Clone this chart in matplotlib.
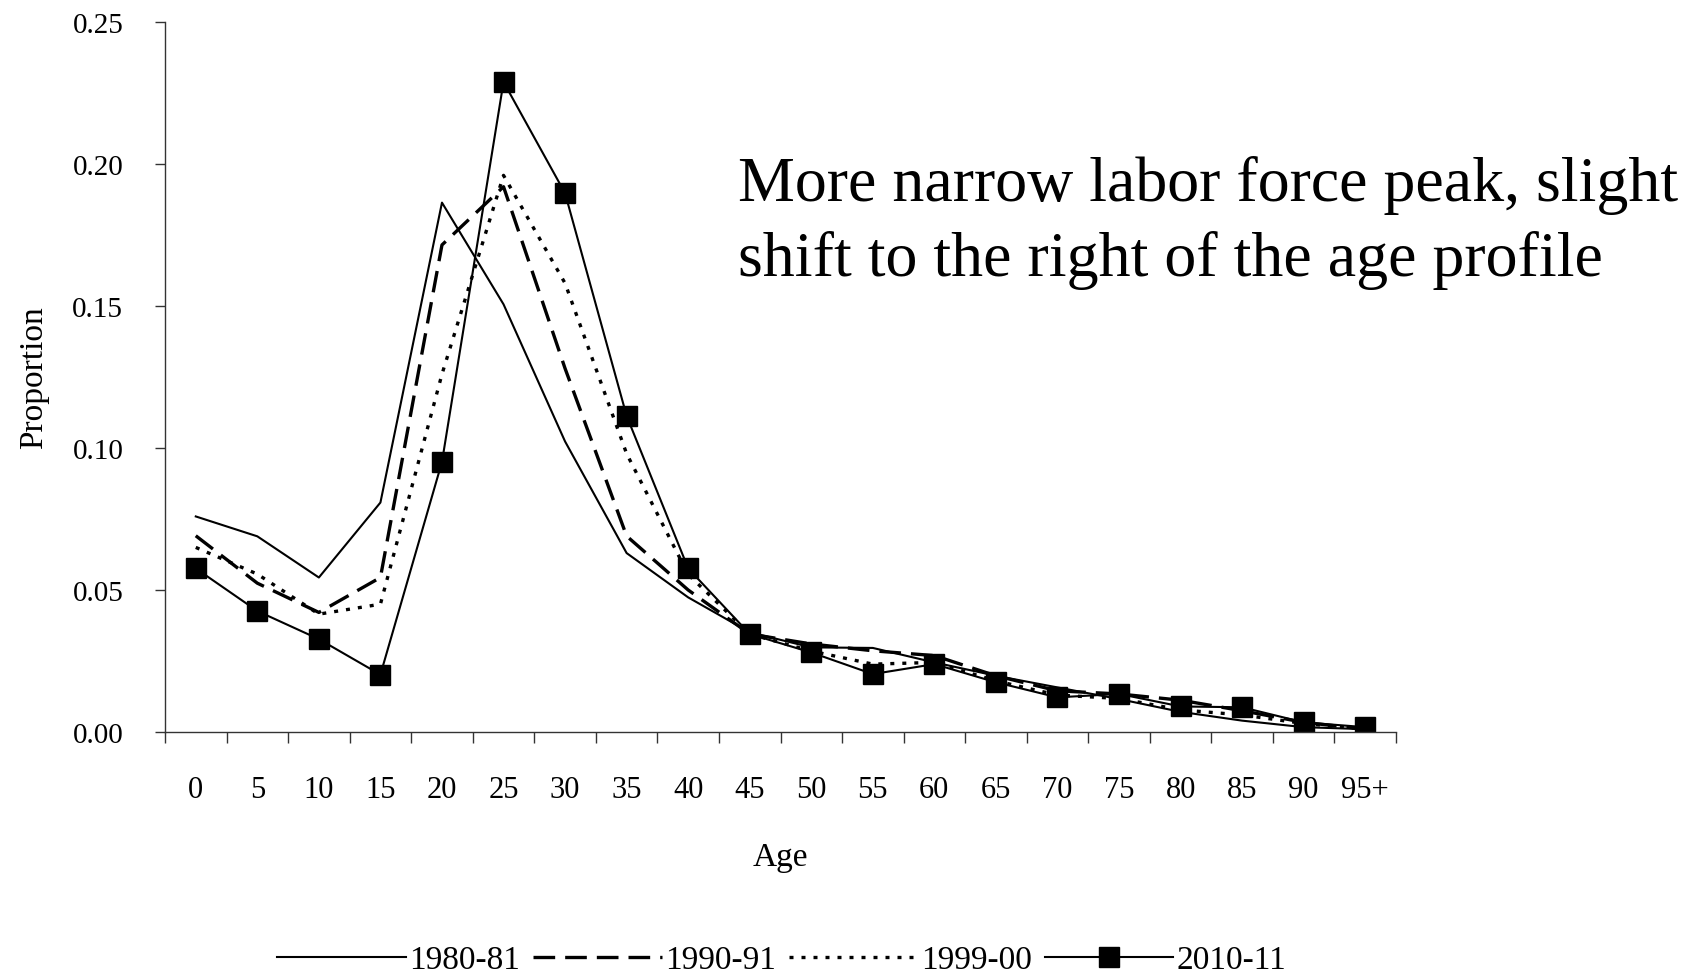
import numpy as np
import matplotlib
matplotlib.use("Agg")
import matplotlib.pyplot as plt
from matplotlib.ticker import FixedLocator, NullFormatter, FixedFormatter

plt.rcParams['font.family'] = ['Liberation Serif', 'DejaVu Serif']

# age groups (x categories)
ages = ['0', '5', '10', '15', '20', '25', '30', '35', '40', '45',
        '50', '55', '60', '65', '70', '75', '80', '85', '90', '95+']

# proportion of population by age group
p_1980 = [0.0759, 0.0689, 0.0544, 0.0808, 0.1864, 0.1506, 0.1023, 0.0630, 0.0474, 0.0351,
          0.0298, 0.0296, 0.0245, 0.0198, 0.0157, 0.0116, 0.0071, 0.0040, 0.0017, 0.0010]
p_1990 = [0.0691, 0.0524, 0.0421, 0.0544, 0.1715, 0.1920, 0.1280, 0.0690, 0.0500, 0.0345,
          0.0310, 0.0286, 0.0269, 0.0198, 0.0145, 0.0134, 0.0112, 0.0075, 0.0034, 0.0010]
p_1999 = [0.0650, 0.0556, 0.0415, 0.0450, 0.1260, 0.1960, 0.1580, 0.0980, 0.0555, 0.0345,
          0.0285, 0.0239, 0.0245, 0.0180, 0.0130, 0.0118, 0.0078, 0.0060, 0.0030, 0.0010]
p_2010 = [0.0576, 0.0426, 0.0327, 0.0202, 0.0951, 0.2289, 0.1897, 0.1113, 0.0576, 0.0345,
          0.0280, 0.0204, 0.0239, 0.0175, 0.0122, 0.0134, 0.0090, 0.0087, 0.0034, 0.0017]

y_ticks = [0.00, 0.05, 0.10, 0.15, 0.20, 0.25]
note = "More narrow labor force peak, slight\nshift to the right of the age profile"


def main():
    W, H = 1700, 979
    fig = plt.figure(figsize=(W / 100, H / 100), dpi=100)
    ax = fig.add_axes([165 / W, 1 - 733 / H, (1396 - 165) / W, (733 - 23) / H])

    x = np.arange(len(ages)) + 0.5
    ax.plot(x, p_1980, color='black', lw=1.5, label='1980-81')
    ax.plot(x, p_1990, color='black', lw=2.4, linestyle=(0, (6.5, 3)), label='1990-91')
    ax.plot(x, p_1999, color='black', lw=2.4, linestyle=(0, (1.2, 2.4)), label='1999-00')
    ax.plot(x, p_2010, color='black', lw=1.5, marker='s', markersize=14, label='2010-11')

    ax.set_xlim(0, len(ages))
    ax.set_ylim(0, 0.25)

    for s in ['top', 'right']:
        ax.spines[s].set_visible(False)
    for s in ['left', 'bottom']:
        ax.spines[s].set_color('#333333')
        ax.spines[s].set_linewidth(1.0)

    # excel-like category axis: ticks between categories, labels centred
    ax.xaxis.set_major_locator(FixedLocator(np.arange(len(ages) + 1)))
    ax.xaxis.set_major_formatter(NullFormatter())
    ax.xaxis.set_minor_locator(FixedLocator(x))
    ax.xaxis.set_minor_formatter(FixedFormatter(ages))
    ax.tick_params(axis='x', which='major', direction='out', length=8, width=1, color='#333333')
    ax.tick_params(axis='x', which='minor', length=0, pad=31, labelsize=22)

    ax.set_yticks(y_ticks)
    ax.set_yticklabels(['%.2f' % v for v in y_ticks])
    ax.tick_params(axis='y', direction='out', length=7, width=1, color='#333333', pad=23, labelsize=21)

    ax.set_ylabel('Proportion', fontsize=24, labelpad=17)
    ax.set_xlabel('Age', fontsize=24, labelpad=27)

    fig.text(738 / W, 1 - 276 / H, note, fontsize=46, ha='left', va='baseline',
             linespacing=1.35)

    fig.legend(loc='center', bbox_to_anchor=(782 / W, 1 - 961 / H), ncol=4, frameon=False,
               fontsize=24, handlelength=3.85, handletextpad=0.1, columnspacing=0.4)

    fig.savefig('out.png', dpi=100)


if __name__ == "__main__":
    main()
